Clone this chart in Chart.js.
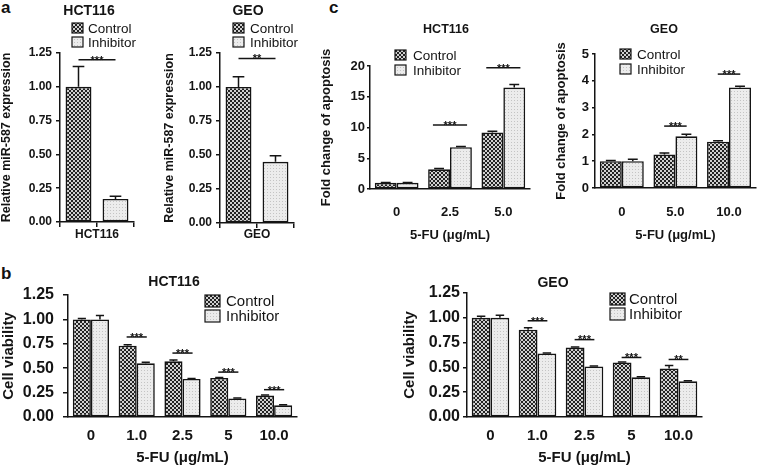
<!DOCTYPE html>
<html><head><meta charset="utf-8">
<script src="https://cdn.jsdelivr.net/npm/chart.js@4/dist/chart.umd.min.js"></script>
<style>
html,body{margin:0;padding:0;background:#fff;}
#wrap{position:relative;width:759px;height:467px;overflow:hidden;background:#fff;}
#wrap canvas{position:absolute;}
.pl{position:absolute;font:bold 17px "Liberation Sans",Arial,sans-serif;color:#111;line-height:20px;}
</style></head><body>
<div id="wrap">
<div class="pl" style="left:1px;top:-2px">a</div>
<div class="pl" style="left:329px;top:-2px">c</div>
<div class="pl" style="left:1px;top:264px">b</div>
</div>
<script>
// ---------- DATA ----------
const seriesNames = ['Control', 'Inhibitor'];

// panel a : relative miR-587 expression
const aHCT116Values = [1.00, 0.17];
const aHCT116Errors = [0.15, 0.02];
const aGEOValues = [1.00, 0.45];
const aGEOErrors = [0.075, 0.045];
const aYTicks = [0, 0.25, 0.50, 0.75, 1.00, 1.25];
const aHCT116Sig = [['***', 0.5, 1.20]];
const aGEOSig = [['**', 0.5, 1.21]];

// panel c : fold change of apoptosis
const cHCT116Doses = ['0', '2.5', '5.0'];
const cHCT116Control = [1.0, 3.2, 9.2];
const cHCT116ControlErr = [0.05, 0.12, 0.2];
const cHCT116Inhibitor = [1.0, 6.8, 16.5];
const cHCT116InhibitorErr = [0.05, 0.1, 0.5];
const cHCT116YTicks = [0, 5, 10, 15, 20];
const cHCT116Sig = [['***', 1, 10.4], ['***', 2, 19.7]];

const cGEODoses = ['0', '5.0', '10.0'];
const cGEOControl = [1.0, 1.25, 1.73];
const cGEOControlErr = [0.03, 0.06, 0.03];
const cGEOInhibitor = [1.0, 1.93, 3.75];
const cGEOInhibitorErr = [0.07, 0.08, 0.05];
const cGEOYTicks = [0, 1, 2, 3, 4, 5];
const cGEOSig = [['***', 1, 2.31], ['***', 2, 4.25]];

// panel b : cell viability
const bDoses = ['0', '1.0', '2.5', '5', '10.0'];
const bYTicks = [0, 0.25, 0.50, 0.75, 1.00, 1.25];
const bHCT116Control = [1.00, 0.73, 0.57, 0.40, 0.22];
const bHCT116ControlErr = [0.01, 0.01, 0.015, 0.005, 0.005];
const bHCT116Inhibitor = [1.00, 0.55, 0.39, 0.19, 0.12];
const bHCT116InhibitorErr = [0.04, 0.01, 0.005, 0.005, 0.005];
const bHCT116Sig = [['***', 1, 0.82], ['***', 2, 0.655], ['***', 3, 0.46], ['***', 4, 0.28]];

const bGEOControl = [1.00, 0.88, 0.70, 0.55, 0.49];
const bGEOControlErr = [0.015, 0.02, 0.005, 0.005, 0.03];
const bGEOInhibitor = [1.00, 0.64, 0.51, 0.40, 0.36];
const bGEOInhibitorErr = [0.025, 0.005, 0.005, 0.005, 0.005];
const bGEOSig = [['***', 1, 0.97], ['***', 2, 0.78], ['***', 3, 0.60], ['**', 4, 0.58]];

// ---------- STYLE ----------
const FONT = '"Liberation Sans", Arial, Helvetica, sans-serif';
const INK = '#141414';

function makePattern(kind) {
  const c = document.createElement('canvas');
  const g = c.getContext('2d');
  if (kind === 'ctrl') {
    c.width = c.height = 4;
    g.fillStyle = '#d0d0d0'; g.fillRect(0, 0, 4, 4);
    g.fillStyle = '#222222'; g.fillRect(0, 0, 2, 2); g.fillRect(2, 2, 2, 2);
  } else {
    c.width = c.height = 3;
    g.fillStyle = '#ececec'; g.fillRect(0, 0, 3, 3);
    g.fillStyle = '#c4c4c4'; g.fillRect(0, 0, 1, 1);
  }
  return g.createPattern(c, 'repeat');
}
const ctrlPat = makePattern('ctrl');
const inhPat = makePattern('inh');

const decor = {
  id: 'decor',
  afterDatasetsDraw(chart, args, o) {
    const ctx = chart.ctx, xs = chart.scales.x, ys = chart.scales.y;
    ctx.save();
    ctx.strokeStyle = INK; ctx.lineWidth = 1.5;
    chart.data.datasets.forEach((ds, di) => {
      const meta = chart.getDatasetMeta(di);
      meta.data.forEach((bar, i) => {
        const v = ds.data[i], e = ds.errors ? ds.errors[i] : null;
        if (v == null || e == null) return;
        const yTop = ys.getPixelForValue(v + e);
        const cap = bar.width * o.cap / 2;
        ctx.beginPath();
        ctx.moveTo(bar.x, bar.y); ctx.lineTo(bar.x, yTop);
        ctx.moveTo(bar.x - cap, yTop); ctx.lineTo(bar.x + cap, yTop);
        ctx.stroke();
      });
    });
    const cw = xs.width / chart.data.labels.length;
    (o.sig || []).forEach(([label, idx, h]) => {
      const cx = xs.getPixelForValue(idx);
      const y = ys.getPixelForValue(h);
      ctx.beginPath();
      ctx.lineWidth = 1.5;
      ctx.moveTo(cx - o.sigHalf * cw, y); ctx.lineTo(cx + o.sigHalf * cw, y);
      ctx.stroke();
      ctx.fillStyle = INK;
      ctx.font = 'bold ' + o.sigSize + 'px ' + FONT;
      ctx.textAlign = 'center'; ctx.textBaseline = 'alphabetic';
      ctx.fillText(label, cx, y + o.sigSize * 0.35);
    });
    ctx.restore();
  },
  afterDraw(chart, args, o) {
    const ctx = chart.ctx;
    ctx.save();
    ctx.fillStyle = INK;
    if (o.title) {
      ctx.font = 'bold ' + o.title.size + 'px ' + FONT;
      ctx.textAlign = 'center'; ctx.textBaseline = 'middle';
      ctx.fillText(o.title.text, o.title.x - o.ox, o.title.y - o.oy);
    }
    if (o.legend) {
      const L = o.legend;
      chart.data.datasets.forEach((ds, i) => {
        const cy = L.rows[i] - o.oy;
        const bx = L.bx - o.ox;
        ctx.fillStyle = ds.backgroundColor;
        ctx.fillRect(bx, cy - L.bh / 2, L.bw, L.bh);
        ctx.lineWidth = 1.2; ctx.strokeStyle = INK;
        ctx.strokeRect(bx, cy - L.bh / 2, L.bw, L.bh);
        ctx.fillStyle = INK;
        ctx.font = L.size + 'px ' + FONT;
        ctx.textAlign = 'left'; ctx.textBaseline = 'middle';
        ctx.fillText(ds.label, L.tx - o.ox, cy + 1);
      });
    }
    ctx.restore();
  }
};

function makeChart(c) {
  const cv = document.createElement('canvas');
  const w = c.box.right - c.box.left, h = c.box.bottom - c.box.top;
  cv.width = w; cv.height = h;
  cv.style.left = c.box.left + 'px'; cv.style.top = c.box.top + 'px';
  cv.style.width = w + 'px'; cv.style.height = h + 'px';
  document.getElementById('wrap').appendChild(cv);
  const yT = c.yTicks;
  new Chart(cv.getContext('2d'), {
    type: 'bar',
    data: { labels: c.labels, datasets: c.datasets },
    options: {
      responsive: false, animation: false, devicePixelRatio: 1,
      layout: { padding: { left: 0, top: c.area.T - c.box.top, right: c.box.right - c.area.R, bottom: 0 } },
      datasets: { bar: { categoryPercentage: c.catPct, barPercentage: 1, borderColor: INK, borderWidth: 1.6, borderSkipped: false, skipNull: true } },
      plugins: {
        legend: { display: false }, tooltip: { enabled: false }, title: { display: false },
        decor: Object.assign({ ox: c.box.left, oy: c.box.top }, c.decor)
      },
      scales: {
        x: {
          afterFit: s => { s.height = c.box.bottom - c.area.B; },
          grid: { display: true, drawOnChartArea: false, drawTicks: c.xTickMarks, tickLength: 5, color: INK, lineWidth: 1.5, offset: true },
          border: { display: true, color: INK, width: 1.5 },
          ticks: { display: c.xTicksDisplay, color: INK, padding: c.xTickPad, font: { family: FONT, size: c.xTickSize, weight: 'bold' }, maxRotation: 0, autoSkip: false },
          title: { display: true, text: c.xTitle, color: INK, padding: 0, font: { family: FONT, size: c.xTitleSize, weight: 'bold' } }
        },
        y: {
          min: yT[0], max: yT[yT.length - 1],
          afterFit: s => { s.width = c.area.L - c.box.left; },
          afterBuildTicks: s => { s.ticks = yT.map(v => ({ value: v })); },
          grid: { display: true, drawOnChartArea: false, drawTicks: true, tickLength: c.yTickLen, color: INK, lineWidth: 1.5 },
          border: { display: true, color: INK, width: 1.5 },
          ticks: { color: INK, padding: c.yTickPad, font: { family: FONT, size: c.yTickSize, weight: 'bold' }, callback: v => c.yFmt(v) },
          title: { display: true, text: c.yTitle, color: INK, padding: 0, font: { family: FONT, size: c.yTitleSize, weight: 'bold' } }
        }
      }
    },
    plugins: [decor]
  });
}

const f2 = v => Number(v).toFixed(2);
const f0 = v => String(v);

function twoSeries(ctrl, ctrlErr, inh, inhErr) {
  return [
    { label: seriesNames[0], data: ctrl, errors: ctrlErr, backgroundColor: ctrlPat },
    { label: seriesNames[1], data: inh, errors: inhErr, backgroundColor: inhPat }
  ];
}
function singleCats(vals, errs) {
  return [
    { label: seriesNames[0], data: [vals[0], null], errors: [errs[0], null], backgroundColor: ctrlPat },
    { label: seriesNames[1], data: [null, vals[1]], errors: [null, errs[1]], backgroundColor: inhPat }
  ];
}

// ---- panel a ----
makeChart({
  box: { left: -1, top: 0, right: 150, bottom: 242 }, area: { L: 60, T: 53, R: 134, B: 222 },
  labels: seriesNames, datasets: singleCats(aHCT116Values, aHCT116Errors), yTicks: aYTicks, yFmt: f2,
  yTitle: 'Relative miR-587 expression', yTitleSize: 12.5, yTickSize: 12, yTickLen: 4, yTickPad: 4,
  xTitle: 'HCT116', xTitleSize: 12, xTicksDisplay: false, xTickMarks: true, xTickPad: 0, xTickSize: 12, catPct: 0.7,
  decor: { title: { text: 'HCT116', x: 89, y: 11, size: 14 }, legend: { bx: 72, bw: 11, bh: 10, rows: [28, 42], tx: 88, size: 13.5 },
    sig: aHCT116Sig, sigHalf: 0.5, sigSize: 11, cap: 0.45 }
});
makeChart({
  box: { left: 162, top: 0, right: 310, bottom: 242 }, area: { L: 220, T: 53, R: 294, B: 223 },
  labels: seriesNames, datasets: singleCats(aGEOValues, aGEOErrors), yTicks: aYTicks, yFmt: f2,
  yTitle: 'Relative miR-587 expression', yTitleSize: 12.5, yTickSize: 12, yTickLen: 4, yTickPad: 4,
  xTitle: 'GEO', xTitleSize: 12, xTicksDisplay: false, xTickMarks: true, xTickPad: 0, xTickSize: 12, catPct: 0.7,
  decor: { title: { text: 'GEO', x: 248, y: 11, size: 14 }, legend: { bx: 233, bw: 11, bh: 10, rows: [28, 42], tx: 250, size: 13.5 },
    sig: aGEOSig, sigHalf: 0.5, sigSize: 11, cap: 0.45 }
});

// ---- panel c ----
makeChart({
  box: { left: 319, top: 10, right: 545, bottom: 243 }, area: { L: 370, T: 66, R: 530, B: 189 },
  labels: cHCT116Doses, datasets: twoSeries(cHCT116Control, cHCT116ControlErr, cHCT116Inhibitor, cHCT116InhibitorErr),
  yTicks: cHCT116YTicks, yFmt: f0,
  yTitle: 'Fold change of apoptosis', yTitleSize: 13, yTickSize: 13, yTickLen: 3, yTickPad: 2,
  xTitle: '5-FU (\u03bcg/mL)', xTitleSize: 13, xTicksDisplay: true, xTickMarks: false, xTickPad: 16, xTickSize: 13, catPct: 0.82,
  decor: { title: { text: 'HCT116', x: 446, y: 30, size: 12.5 }, legend: { bx: 395, bw: 11, bh: 10, rows: [55, 70], tx: 413, size: 13.5 },
    sig: cHCT116Sig, sigHalf: 0.32, sigSize: 11, cap: 0.45 }
});
makeChart({
  box: { left: 554, top: 10, right: 759, bottom: 243 }, area: { L: 595, T: 54, R: 757, B: 188 },
  labels: cGEODoses, datasets: twoSeries(cGEOControl, cGEOControlErr, cGEOInhibitor, cGEOInhibitorErr),
  yTicks: cGEOYTicks, yFmt: f0,
  yTitle: 'Fold change of apoptosis', yTitleSize: 13, yTickSize: 13, yTickLen: 3, yTickPad: 3,
  xTitle: '5-FU (\u03bcg/mL)', xTitleSize: 13, xTicksDisplay: true, xTickMarks: false, xTickPad: 17, xTickSize: 13, catPct: 0.82,
  decor: { title: { text: 'GEO', x: 664, y: 30, size: 12.5 }, legend: { bx: 620, bw: 11, bh: 10, rows: [54, 69], tx: 637, size: 13.5 },
    sig: cGEOSig, sigHalf: 0.21, sigSize: 11, cap: 0.45 }
});

// ---- panel b ----
makeChart({
  box: { left: 0, top: 265, right: 300, bottom: 467 }, area: { L: 68, T: 295, R: 297, B: 417 },
  labels: bDoses, datasets: twoSeries(bHCT116Control, bHCT116ControlErr, bHCT116Inhibitor, bHCT116InhibitorErr),
  yTicks: bYTicks, yFmt: f2,
  yTitle: 'Cell viability', yTitleSize: 15, yTickSize: 16, yTickLen: 5, yTickPad: 9,
  xTitle: '5-FU (\u03bcg/mL)', xTitleSize: 15, xTicksDisplay: true, xTickMarks: false, xTickPad: 10, xTickSize: 15, catPct: 0.79,
  decor: { title: { text: 'HCT116', x: 174, y: 282, size: 14 }, legend: { bx: 205, bw: 15, bh: 12, rows: [301, 316], tx: 226, size: 15 },
    sig: bHCT116Sig, sigHalf: 0.22, sigSize: 11, cap: 0.45 }
});
makeChart({
  box: { left: 401, top: 265, right: 715, bottom: 467 }, area: { L: 467, T: 293, R: 702, B: 417 },
  labels: bDoses, datasets: twoSeries(bGEOControl, bGEOControlErr, bGEOInhibitor, bGEOInhibitorErr),
  yTicks: bYTicks, yFmt: f2,
  yTitle: 'Cell viability', yTitleSize: 15, yTickSize: 16, yTickLen: 4, yTickPad: 3,
  xTitle: '5-FU (\u03bcg/mL)', xTitleSize: 15, xTicksDisplay: true, xTickMarks: false, xTickPad: 10, xTickSize: 15, catPct: 0.8,
  decor: { title: { text: 'GEO', x: 553, y: 283, size: 14 }, legend: { bx: 610, bw: 15, bh: 12, rows: [299, 314], tx: 629, size: 15 },
    sig: bGEOSig, sigHalf: 0.21, sigSize: 11, cap: 0.45 }
});
</script>
</body></html>
